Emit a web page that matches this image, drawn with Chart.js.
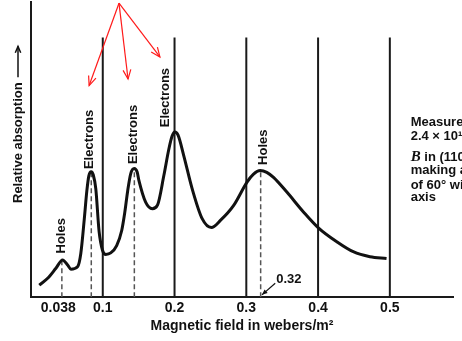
<!DOCTYPE html>
<html>
<head>
<meta charset="utf-8">
<script src="https://cdn.jsdelivr.net/npm/chart.js@4.4.1/dist/chart.umd.min.js"></script>
<style>
  html, body { margin: 0; padding: 0; background: #fff; }
  #wrap { width: 462px; height: 341px; }
</style>
</head>
<body>
<div id="wrap"><canvas id="chart" width="462" height="341"></canvas></div>
<script>
// absorption curve (field in Wb/m^2, absorption in % of plot height)
const fieldValues = [0.0115, 0.0232, 0.0347, 0.0440, 0.0510, 0.0556, 0.0649, 0.0694, 0.0743, 0.0778,
  0.0806, 0.0838, 0.0868, 0.0903, 0.0949, 0.0996, 0.1042, 0.1111, 0.1194, 0.1264,
  0.1306, 0.1347, 0.1389, 0.1438, 0.1479, 0.1504, 0.1597, 0.1690, 0.1764, 0.1851,
  0.1921, 0.1965, 0.2004, 0.2049, 0.2129, 0.2246, 0.2385, 0.2514, 0.2639, 0.2824,
  0.3010, 0.3097, 0.3194, 0.3285, 0.3379, 0.3565, 0.3796, 0.4004, 0.4260, 0.4490,
  0.4722, 0.4954];
const absorption = [4.1, 6.4, 9.8, 12.6, 10.9, 9.5, 10.3, 14.8, 26.6, 36.0,
  41.1, 42.5, 41.4, 36.7, 22.2, 15.9, 14.5, 15.0, 17.5, 22.6,
  28.6, 36.0, 41.8, 43.6, 42.4, 39.5, 32.2, 30.0, 31.3, 41.2,
  50.2, 54.5, 56.0, 54.9, 47.9, 36.7, 26.6, 23.6, 26.0, 31.1,
  39.0, 41.6, 42.9, 42.3, 40.6, 35.6, 28.9, 23.5, 18.8, 15.4,
  13.7, 13.1];

const tickValues = [0.038, 0.1, 0.2, 0.3, 0.4, 0.5];
const tickLabels = ['0.038', '0.1', '0.2', '0.3', '0.4', '0.5'];

const gridFields = [0.1, 0.2, 0.3, 0.4, 0.5];
const gridTop = 88;

// dashed markers under the resonance peaks
const dashedFields = [0.043, 0.084, 0.144, 0.32];
const dashedTops = [12.6, 42.5, 43.6, 42.9];

const peakLabels = ['Holes', 'Electrons', 'Electrons', 'Electrons', 'Holes'];
const peakLabelX = [0.043, 0.082, 0.143, 0.1875, 0.3236];
const peakLabelY = [14.8, 43.4, 45.1, 57.6, 44.8];

// red arrows drawn on top of the scan
const arrowFromX = 0.1226, arrowFromY = 99.6;
const arrowToX = [0.081, 0.1352, 0.1796];
const arrowToY = [71.7, 73.9, 81.4];

const noteLines = ['Measured at', '2.4 × 10¹⁰ cps;', ' in (110) plane', 'making an angle', 'of 60° with [100]', 'axis'];
const noteY = [59.3, 54.5, 47.5, 42.8, 38.0, 33.7];
const noteX = 0.529;

const FONT = '"Liberation Sans", Arial, sans-serif';

function drawArrow(ctx, x0, y0, x1, y1, head, filled) {
  const a = Math.atan2(y1 - y0, x1 - x0);
  ctx.beginPath();
  ctx.moveTo(x0, y0);
  ctx.lineTo(x1, y1);
  ctx.stroke();
  const l = [x1 - head * Math.cos(a - 0.4), y1 - head * Math.sin(a - 0.4)];
  const r = [x1 - head * Math.cos(a + 0.4), y1 - head * Math.sin(a + 0.4)];
  ctx.beginPath();
  ctx.moveTo(l[0], l[1]);
  ctx.lineTo(x1, y1);
  ctx.lineTo(r[0], r[1]);
  if (filled) { ctx.closePath(); ctx.fill(); } else ctx.stroke();
}

const annotate = {
  id: 'annotate',
  afterDatasetsDraw(chart) {
    const { ctx } = chart;
    const x = chart.scales.x, y = chart.scales.y;
    ctx.save();
    ctx.fillStyle = '#111';
    ctx.strokeStyle = '#111';
    ctx.font = 'bold 13px ' + FONT;

    peakLabels.forEach((t, i) => {
      ctx.save();
      ctx.translate(x.getPixelForValue(peakLabelX[i]), y.getPixelForValue(peakLabelY[i]));
      ctx.rotate(-Math.PI / 2);
      ctx.textAlign = 'left';
      ctx.textBaseline = 'middle';
      ctx.fillText(t, 0, 0);
      ctx.restore();
    });

    // y title with its arrow
    ctx.save();
    ctx.translate(18, 203);
    ctx.rotate(-Math.PI / 2);
    ctx.textAlign = 'left';
    ctx.textBaseline = 'middle';
    ctx.fillText('Relative absorption', 0, 0);
    const w = ctx.measureText('Relative absorption').width;
    ctx.lineWidth = 1.5;
    drawArrow(ctx, w + 5, 0, w + 36, 0, 7, false);
    ctx.restore();

    // 0.32 note
    ctx.textAlign = 'left';
    ctx.textBaseline = 'middle';
    ctx.fillText('0.32', x.getPixelForValue(0.3417), y.getPixelForValue(6.1));
    ctx.lineWidth = 1.2;
    drawArrow(ctx, x.getPixelForValue(0.3403), y.getPixelForValue(4.7),
      x.getPixelForValue(0.3218), y.getPixelForValue(0.8), 6, true);

    // note block at the right, cut by the edge as in the scan
    noteLines.forEach((t, i) => {
      ctx.fillText(t, x.getPixelForValue(noteX) + (i === 2 ? 10 : 0), y.getPixelForValue(noteY[i]));
    });
    ctx.font = 'italic bold 15px "Liberation Serif", serif';
    ctx.fillText('B', x.getPixelForValue(noteX), y.getPixelForValue(noteY[2]));

    // red arrows
    ctx.strokeStyle = '#ff1a1a';
    ctx.lineWidth = 1.2;
    arrowToX.forEach((tx, i) => {
      drawArrow(ctx, x.getPixelForValue(arrowFromX), y.getPixelForValue(arrowFromY),
        x.getPixelForValue(tx), y.getPixelForValue(arrowToY[i]), 10, false);
    });
    ctx.restore();
  }
};

const datasets = [{
  data: fieldValues.map((f, i) => ({ x: f, y: absorption[i] })),
  borderColor: '#111',
  borderWidth: 3,
  pointRadius: 0,
  cubicInterpolationMode: 'monotone'
}];
gridFields.forEach(f => datasets.push({
  data: [{ x: f, y: 0 }, { x: f, y: gridTop }],
  borderColor: '#1a1a1a',
  borderWidth: 2,
  pointRadius: 0
}));
dashedFields.forEach((f, i) => datasets.push({
  data: [{ x: f, y: 0 }, { x: f, y: dashedTops[i] }],
  borderColor: '#555',
  borderWidth: 1.5,
  borderDash: [5, 3],
  pointRadius: 0
}));

new Chart(document.getElementById('chart'), {
  type: 'line',
  data: { datasets },
  options: {
    responsive: false,
    animation: false,
    devicePixelRatio: 1,
    layout: { padding: { top: 2, left: 31, right: 9, bottom: 0 } },
    plugins: { legend: { display: false }, tooltip: { enabled: false } },
    scales: {
      x: {
        type: 'linear',
        min: 0,
        max: 0.588,
        grid: { display: false, drawTicks: false },
        border: { display: true, width: 2, color: '#1a1a1a' },
        afterBuildTicks: axis => { axis.ticks = tickValues.map(v => ({ value: v })); },
        ticks: {
          autoSkip: false,
          maxRotation: 0,
          padding: 3,
          color: '#111',
          font: { family: FONT, size: 14, weight: 'bold', lineHeight: 1.1 },
          callback: (v, i) => tickLabels[i]
        },
        title: {
          display: true,
          text: 'Magnetic field in webers/m²',
          color: '#111',
          font: { family: FONT, size: 14, weight: 'bold', lineHeight: 1.1 },
          padding: { top: 0, bottom: 7 }
        }
      },
      y: {
        min: 0,
        max: 100,
        grid: { display: false, drawTicks: false },
        border: { display: true, width: 2, color: '#1a1a1a' },
        ticks: { display: false }
      }
    }
  },
  plugins: [annotate]
});
</script>
</body>
</html>
